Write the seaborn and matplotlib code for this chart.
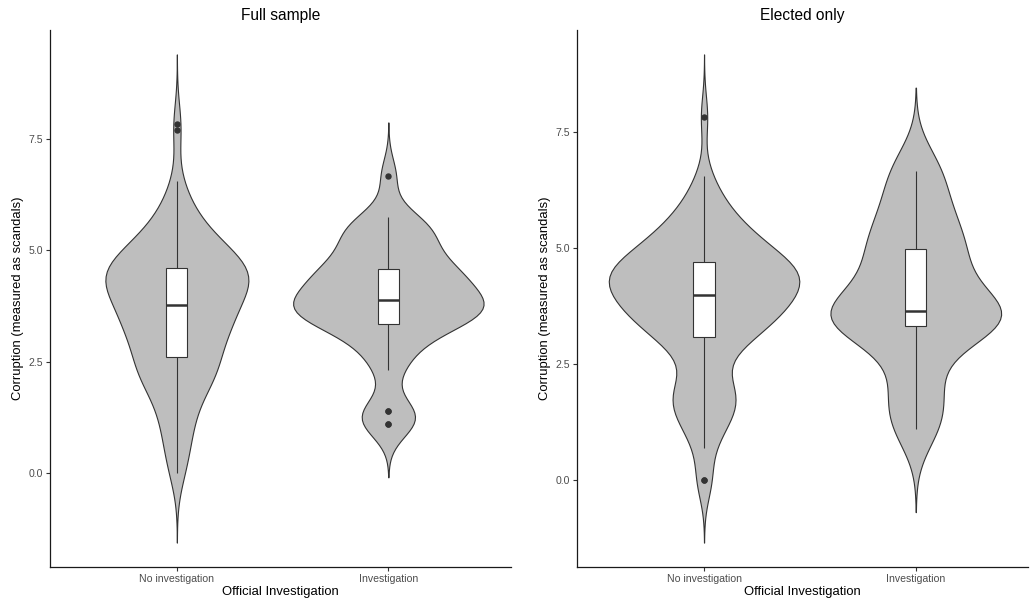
import numpy as np
import pandas as pd
import matplotlib
matplotlib.use("Agg")
import matplotlib.pyplot as plt
import seaborn as sns

categories = ["No investigation", "Investigation"]

# Full sample: corruption score levels and number of cases at each level
full_noinv_levels = [0.00, 0.40, 0.75, 1.05, 1.35, 1.65, 1.95, 2.20, 2.45, 2.60,
                     2.75, 2.95, 3.15, 3.35, 3.55, 3.70, 3.77,
                     3.90, 4.05, 4.20, 4.35, 4.50, 4.60,
                     4.70, 4.85, 5.05, 5.25, 5.50, 5.75, 6.00, 6.25, 6.55, 7.70, 7.83]
full_noinv_counts = [2, 2, 2, 2, 3, 2, 4, 6, 5, 1,
                     3, 4, 5, 5, 5, 5, 1,
                     2, 4, 5, 7, 9, 1,
                     3, 5, 5, 4, 3, 2, 2, 1, 1, 1, 1]

full_inv_levels = [1.10, 1.38, 2.30, 2.65, 2.90, 3.10, 3.30, 3.35, 3.42, 3.50,
                   3.57, 3.62, 3.67, 3.72, 3.77, 3.82, 3.875, 3.95, 4.05, 4.15,
                   4.25, 4.35, 4.45, 4.52, 4.56, 4.575, 4.75, 4.95, 5.10, 5.25,
                   5.40, 5.50, 5.62, 5.75, 6.67]
full_inv_counts = [2, 2, 1, 1, 1, 1, 1, 1, 1, 1,
                   1, 1, 1, 1, 1, 1, 1, 1, 1, 1,
                   1, 1, 1, 1, 1, 1, 1, 1, 1, 1,
                   1, 1, 1, 1, 1]

# Elected officials only
elec_noinv_levels = [0.00, 0.70, 0.95, 1.20, 1.45, 1.65, 1.85, 2.05, 2.30, 2.60,
                     2.85, 3.00, 3.08,
                     3.20, 3.40, 3.60, 3.75, 3.90, 4.00,
                     4.15, 4.30, 4.45, 4.60, 4.70,
                     4.80, 5.00, 5.20, 5.45, 5.70, 5.95, 6.25, 6.55, 7.83]
elec_noinv_counts = [2, 1, 1, 2, 2, 2, 3, 2, 1, 1,
                     2, 2, 1,
                     3, 4, 4, 4, 5, 1,
                     4, 5, 6, 5, 1,
                     3, 4, 4, 3, 2, 2, 1, 1, 1]

elec_inv_levels = [1.10, 1.35, 1.90, 2.35, 3.30, 3.33, 3.42, 3.50, 3.56, 3.62,
                   3.68, 3.95, 4.35, 4.65, 4.90, 5.00, 5.35, 5.65, 5.95, 6.67]
elec_inv_counts = [1, 1, 1, 1, 1, 2, 1, 1, 1, 1,
                   1, 1, 1, 1, 1, 1, 1, 1, 1, 2]


def build_frame(noinv_levels, noinv_counts, inv_levels, inv_counts):
    noinv = np.repeat(noinv_levels, noinv_counts)
    inv = np.repeat(inv_levels, inv_counts)
    return pd.DataFrame({
        "investigation": [categories[0]] * len(noinv) + [categories[1]] * len(inv),
        "corruption": np.concatenate([noinv, inv]),
    })


def nrd0(kde):
    """Silverman's rule of thumb (R's bw.nrd0) as a gaussian_kde factor."""
    x = np.asarray(kde.dataset).ravel()
    sd = x.std(ddof=1)
    q75, q25 = np.percentile(x, [75, 25])
    lo = min(sd, (q75 - q25) / 1.34)
    bw = 0.9 * lo * len(x) ** -0.2
    return bw / sd


full_df = build_frame(full_noinv_levels, full_noinv_counts, full_inv_levels, full_inv_counts)
elec_df = build_frame(elec_noinv_levels, elec_noinv_counts, elec_inv_levels, elec_inv_counts)

sns.set_theme(style="white")
plt.rcParams["font.family"] = ["Liberation Sans", "DejaVu Sans"]

LINE = "#333333"
W, H = 1032, 603
fig = plt.figure(figsize=(W / 100, H / 100), dpi=100)
ax_full = fig.add_axes([50 / W, 36 / H, 461 / W, 537 / H])
ax_elec = fig.add_axes([577 / W, 36 / H, 451 / W, 537 / H])


def draw_panel(ax, df, title, xmax):
    sns.violinplot(data=df, x="investigation", y="corruption", order=categories,
                   color="#BEBEBE", saturation=1, linecolor=LINE, linewidth=0.8,
                   inner=None, cut=3, bw_method=nrd0, density_norm="area",
                   width=0.9, ax=ax)
    sns.boxplot(data=df, x="investigation", y="corruption", order=categories,
                color="white", saturation=1, linecolor=LINE, linewidth=0.8,
                width=0.1, whis=1.5, showcaps=False, fliersize=3.6,
                flierprops=dict(marker="o", markerfacecolor=LINE,
                                markeredgecolor=LINE),
                medianprops=dict(linewidth=1.8, color=LINE), ax=ax)
    ax.set_xlim(-0.6, xmax)
    ax.margins(y=0.05)
    ax.autoscale(axis="y")
    ax.set_yticks([0, 2.5, 5, 7.5])
    ax.set_yticklabels(["0.0", "2.5", "5.0", "7.5"])
    ax.set_title(title, fontsize=11.2, color="black", pad=7)
    ax.set_xlabel("Official Investigation", fontsize=9.4, color="black", labelpad=1.5)
    ax.set_ylabel("Corruption (measured as scandals)", fontsize=9.4, color="black", labelpad=3)
    ax.tick_params(axis="both", which="major", labelsize=7.6, labelcolor="#4D4D4D",
                   color=LINE, length=3, width=0.8, pad=2, bottom=True, left=True)
    for side in ("top", "right"):
        ax.spines[side].set_visible(False)
    for side in ("left", "bottom"):
        ax.spines[side].set_color("#1A1A1A")
        ax.spines[side].set_linewidth(0.9)


draw_panel(ax_full, full_df, "Full sample", 1.58)
draw_panel(ax_elec, elec_df, "Elected only", 1.53)

fig.savefig("out.png", dpi=100)
